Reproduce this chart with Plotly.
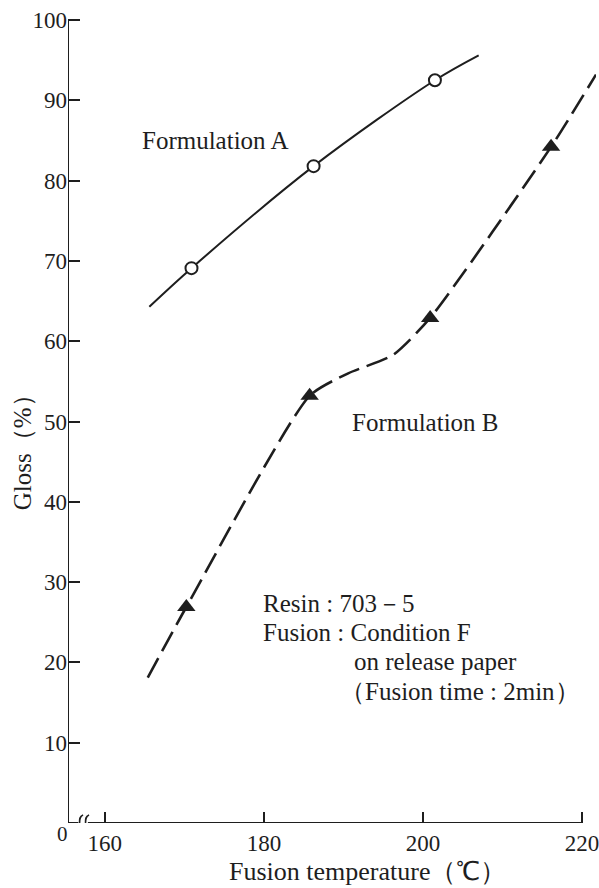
import plotly.graph_objects as go

# ---- data ----
a_curve_x = [165.6, 170.9, 186.25, 201.5, 207.0]
a_curve_y = [64.3, 69.1, 81.8, 92.5, 95.6]
a_pts_x = [170.9, 186.25, 201.5]
a_pts_y = [69.1, 81.8, 92.5]

b_curve_x = [165.4, 170.25, 185.75, 190.6, 196.25, 200.9, 216.1, 221.75]
b_curve_y = [18.1, 26.9, 53.2, 56.0, 58.3, 62.9, 84.2, 93.2]
b_pts_x = [170.25, 185.75, 200.9, 216.1]
b_pts_y = [26.9, 53.2, 62.9, 84.2]

x_ticks = [160, 180, 200, 220]
y_ticks = [10, 20, 30, 40, 50, 60, 70, 80, 90, 100]

# ---- layout geometry (pixels) ----
W, H = 599, 888
L, R, T, B = 68, 0, 0, 65
X0 = 160 - (105 - L) / 8.0
X1 = 160 + (W - R - 105) / 8.0
Y1 = (H - B - T) / 8.03

FONT = "Liberation Serif"
INK = "#1e1e1e"


def paper(xp, yp):
    return (xp - L) / (W - L - R), (H - B - yp) / (H - B - T)


fig = go.Figure()

fig.add_trace(go.Scatter(x=a_curve_x, y=a_curve_y, mode="lines",
                         line=dict(color=INK, width=2, shape="spline", smoothing=0.9),
                         hoverinfo="skip", showlegend=False))
fig.add_trace(go.Scatter(x=a_pts_x, y=a_pts_y, mode="markers",
                         marker=dict(symbol="circle", size=12, color="white",
                                     line=dict(color=INK, width=2)),
                         showlegend=False))
fig.add_trace(go.Scatter(x=b_curve_x, y=b_curve_y, mode="lines",
                         line=dict(color=INK, width=2.6, shape="spline", smoothing=0.6,
                                   dash="22px,8px"),
                         hoverinfo="skip", showlegend=False))
fig.add_trace(go.Scatter(x=b_pts_x, y=b_pts_y, mode="markers",
                         marker=dict(symbol="triangle-up", size=16, color=INK,
                                     line=dict(width=0)),
                         showlegend=False))

# axes drawn as shapes
shapes = [
    dict(type="line", xref="x", yref="y", x0=X0, x1=X0, y0=0, y1=100,
         line=dict(color=INK, width=2)),
    dict(type="line", xref="x", yref="y", x0=X0, x1=X0 + 1.3, y0=0, y1=0,
         line=dict(color=INK, width=2)),
    dict(type="line", xref="x", yref="y", x0=X0 + 2.5, x1=220, y0=0, y1=0,
         line=dict(color=INK, width=2)),
]
# break marks
for off in (1.45, 2.2):
    xs = X0 + off
    shapes.append(dict(type="path", xref="x", yref="y",
                       path=f"M {xs+0.45},1.0 C {xs-0.45},0.7 {xs+0.45},-0.6 {xs-0.4},-1.0",
                       line=dict(color=INK, width=1.6)))
fig.update_layout(shapes=shapes)

ann = []
def text(xp, yp, s, size=25, anchor="left", angle=0):
    px, py = paper(xp, yp)
    ann.append(dict(xref="paper", yref="paper", x=px, y=py, text=s, showarrow=False,
                    xanchor=anchor, yanchor="middle", textangle=angle,
                    font=dict(family=FONT, size=size, color=INK)))

text(216, 141, "Formulation A", anchor="center")
text(428, 422, "Formulation B", anchor="center")
text(262, 603, "Resin : 703－5")
text(262, 632, "Fusion : Condition F")
text(354, 661, "on release paper")
text(340, 691, "（Fusion time : 2min）")
text(369, 872, "Fusion temperature（℃）", size=26, anchor="center")
text(22, 446, "Gloss（%）", size=25, anchor="center", angle=-90)
text(62, 834, "0", size=21, anchor="center")
fig.update_layout(annotations=ann)

fig.update_xaxes(range=[X0, X1], tickvals=x_ticks, ticks="inside", ticklen=11,
                 tickwidth=2, tickcolor=INK, showgrid=False, zeroline=False,
                 showline=False, ticklabelstandoff=4, ticklabeloverflow="allow",
                 tickfont=dict(family=FONT, size=23, color=INK))
fig.update_yaxes(range=[0, Y1], tickvals=y_ticks, ticks="inside", ticklen=12,
                 tickwidth=2, tickcolor=INK, showgrid=False, zeroline=False,
                 showline=False, ticklabelstandoff=0,
                 tickfont=dict(family=FONT, size=23, color=INK))

fig.update_layout(width=W, height=H, margin=dict(l=L, r=R, t=T, b=B),
                  paper_bgcolor="white", plot_bgcolor="white", showlegend=False)

fig.write_html("out.html")
